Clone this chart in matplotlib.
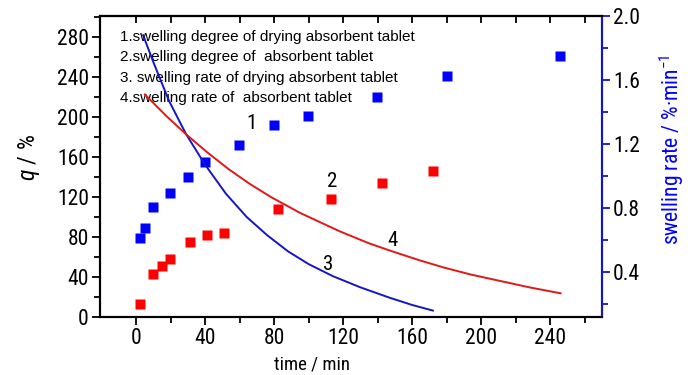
import numpy as np
import matplotlib.pyplot as plt
from matplotlib.ticker import MultipleLocator, FixedLocator

# swelling degree, drying absorbent tablet (1)
t1 = [2.3, 4.8, 9.7, 19.3, 29.8, 40, 59.4, 79.7, 99.3, 139.7, 180, 245.8]
q1 = [79, 89, 110, 124, 140, 155, 172, 192, 201, 220, 241, 261]
# swelling degree, absorbent tablet (2)
t2 = [2.3, 9.7, 14.7, 19.7, 31.4, 41, 51.1, 82.2, 112.7, 142.3, 172.2]
q2 = [13, 43, 51, 58, 75, 82, 84, 108, 118, 134, 146]
# swelling rate, drying absorbent tablet (3)
t3 = [4, 10, 19, 29, 40, 52, 64, 76, 88, 100, 114, 130, 147, 160, 172]
r3 = [1.88, 1.71, 1.47, 1.26, 1.07, 0.89, 0.745, 0.63, 0.53, 0.45, 0.375, 0.305, 0.24, 0.195, 0.16]
# swelling rate, absorbent tablet (4)
t4 = [5, 17, 29, 41, 54, 66, 78, 95, 118, 135, 147, 164, 178, 194, 211, 228, 246]
r4 = [1.51, 1.38, 1.26, 1.15, 1.04, 0.95, 0.87, 0.77, 0.655, 0.58, 0.535, 0.475, 0.43,
      0.385, 0.345, 0.305, 0.268]

legend_lines = ["1.swelling degree of drying absorbent tablet",
                "2.swelling degree of  absorbent tablet",
                "3. swelling rate of drying absorbent tablet",
                "4.swelling rate of  absorbent tablet"]

plt.rcParams['font.family'] = ['Roboto Condensed', 'DejaVu Sans']
plt.rcParams['font.stretch'] = 'condensed'
plt.rcParams['mathtext.fontset'] = 'custom'
plt.rcParams['mathtext.rm'] = 'Roboto Condensed'
plt.rcParams['mathtext.it'] = 'Roboto Condensed:italic'
BLUE = '#0000ff'
RED = '#ff0000'
TICK = 15.5

fig = plt.figure(figsize=(7, 3.75), dpi=100)
ax = fig.add_axes([100/700, 1-317/375, 502/700, 301/375])
ax2 = ax.twinx()

ax.plot(t1, q1, 's', color=BLUE, ms=6.5, mec='none')
ax.plot(t2, q2, 's', color=RED, ms=6.5, mec='none')
ax2.plot(t3, r3, '-', color='#1515c8', lw=1.4)
ax2.plot(t4, r4, '-', color='#e01818', lw=1.4)

ax.set_xlim(-21, 270)
ax.set_ylim(0, 301)
ax2.set_ylim(0.12, 2.0)

ax.set_xticks(range(0, 241, 40))
ax.xaxis.set_minor_locator(FixedLocator(range(20, 261, 40)))
ax.set_yticks(range(0, 281, 40))
ax.yaxis.set_minor_locator(MultipleLocator(20))
ax2.set_yticks([0.4, 0.8, 1.2, 1.6, 2.0])
ax2.yaxis.set_minor_locator(FixedLocator([0.2, 0.6, 1.0, 1.4, 1.8]))

ax.tick_params(which='major', direction='out', length=6, width=1.3, labelsize=TICK, pad=2)
ax.tick_params(which='minor', direction='out', length=4, width=1.3)
ax2.tick_params(which='major', direction='out', length=6, width=1.3, labelsize=TICK,
                color='#1515c8', pad=2)
ax2.tick_params(which='minor', direction='out', length=4, width=1.3, color='#1515c8')
ax2.set_yticklabels(['0.4', '0.8', '1.2', '1.6', '2.0'])

top = ax.secondary_xaxis('top')
top.set_xticks(range(0, 261, 20))
top.tick_params(direction='in', length=5, width=1.3, labeltop=False)

for a in (ax, ax2):
    for s in a.spines.values():
        s.set_linewidth(1.5)
ax2.spines['right'].set_color('#1515c8')
top.spines['top'].set_linewidth(1.5)

ax.set_xlabel('time / min', fontsize=13.5)
ax.xaxis.set_label_coords(0.423, -0.128)
ax.set_ylabel(r'$q$ / %', fontsize=17)
ax.yaxis.set_label_coords(-0.115, 0.53)
ax2.set_ylabel('swelling rate / %\u00b7min$^{-1}$', fontsize=15.5, color=BLUE)
ax2.yaxis.set_label_coords(1.11, 0.555)

for i, s in enumerate(legend_lines):
    ax.text(0.04, 0.931 - i*0.068, s, transform=ax.transAxes, fontsize=11,
            family=['Liberation Sans', 'DejaVu Sans'], stretch='normal',
            va='center', ha='left')

ax.text(66.8, 194, '1', fontsize=15, ha='center', va='center')
ax.text(113.8, 136, '2', fontsize=15, ha='center', va='center')
ax.text(111.3, 52, '3', fontsize=15, ha='center', va='center')
ax.text(148.6, 77, '4', fontsize=15, ha='center', va='center')

fig.savefig('out.png', dpi=100)
